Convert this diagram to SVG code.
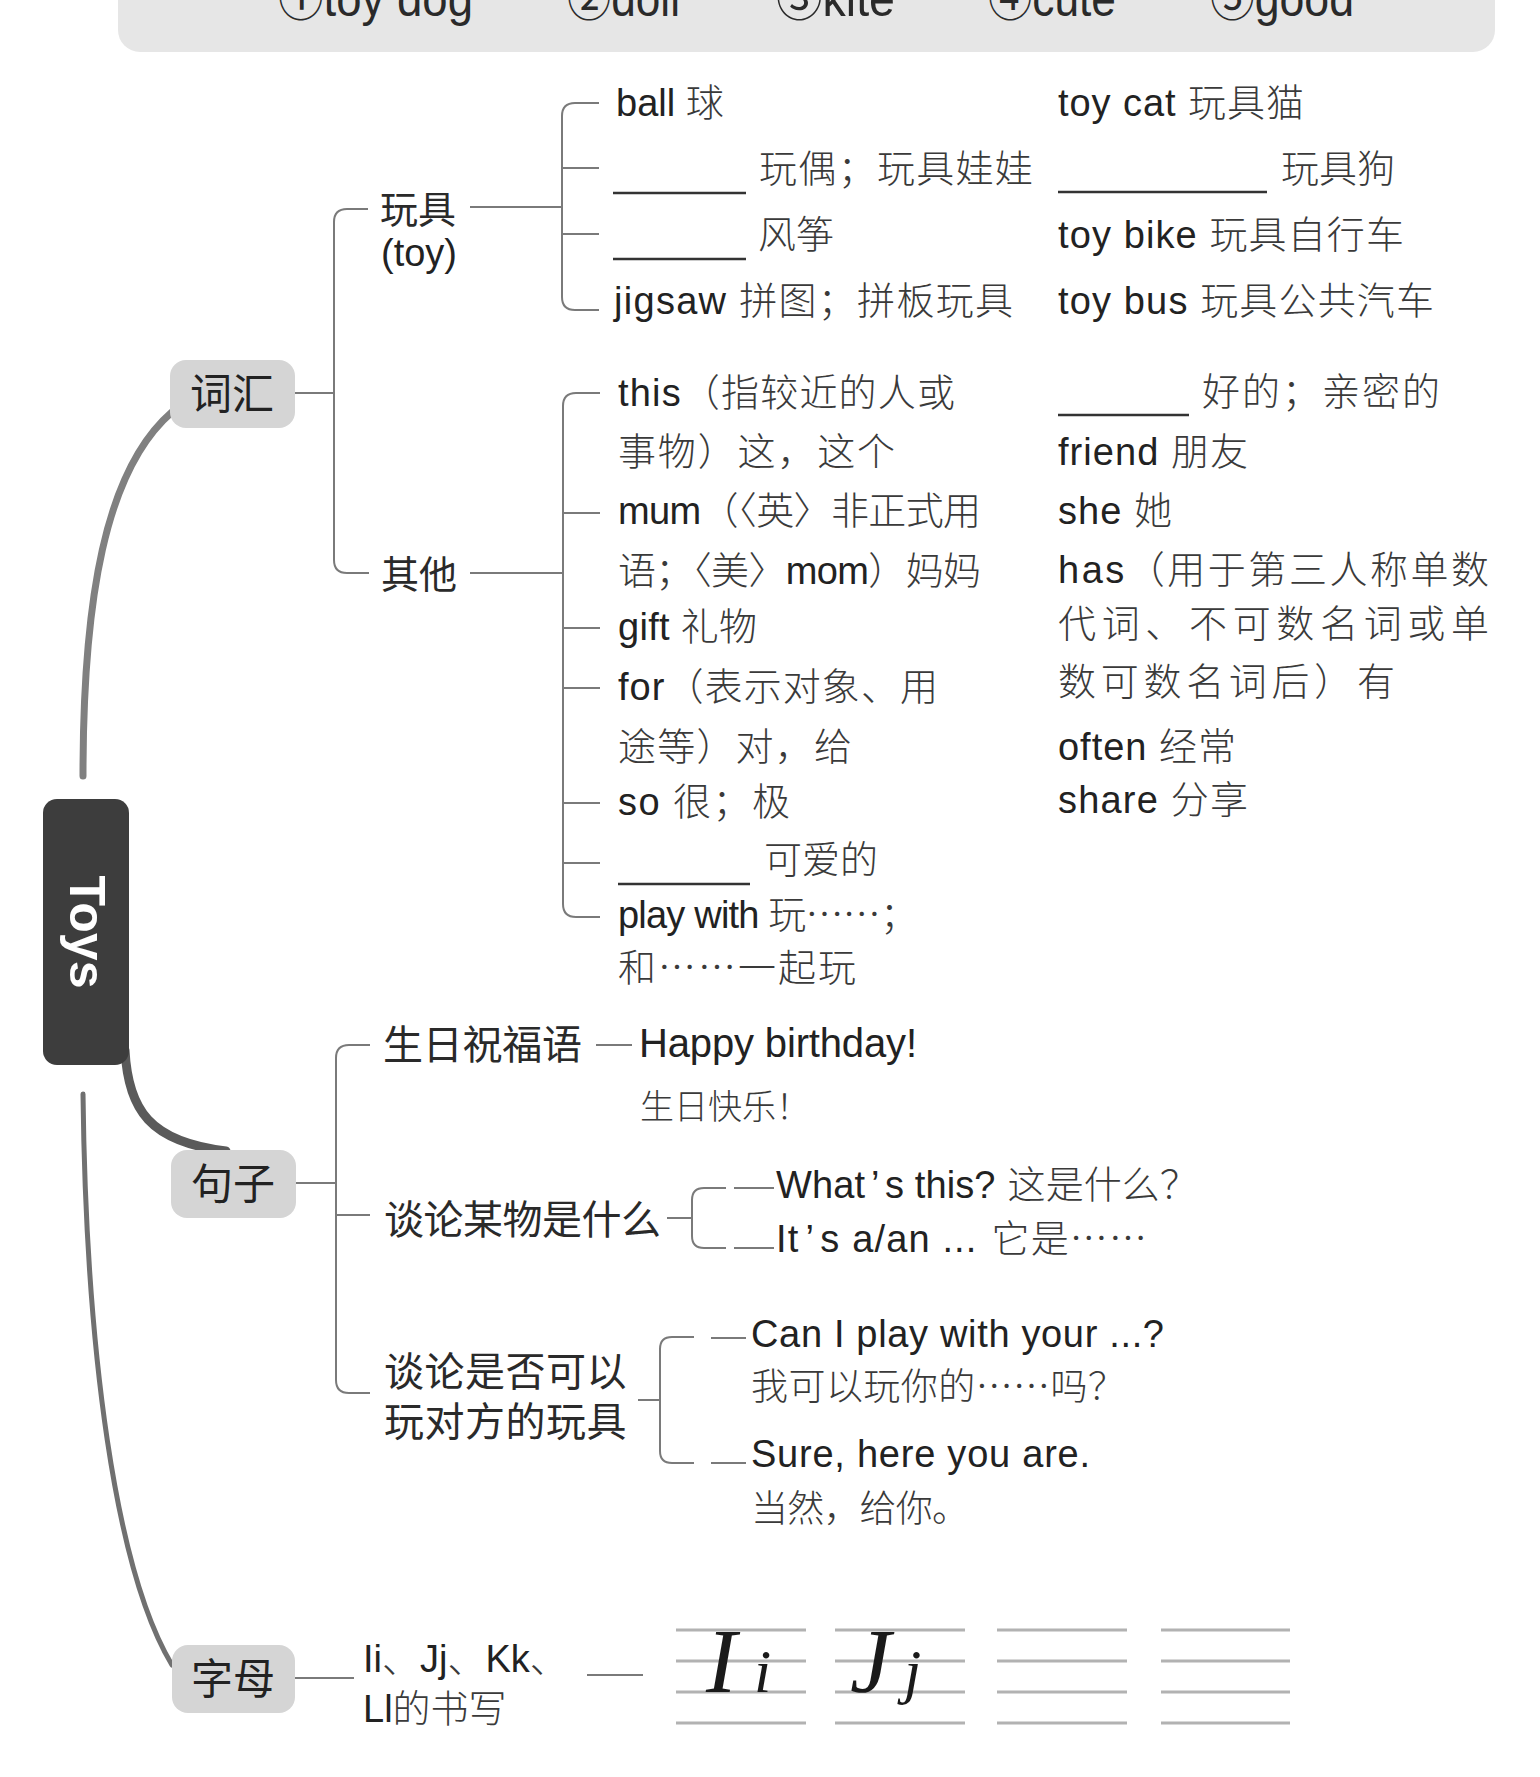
<svg xmlns="http://www.w3.org/2000/svg" width="1540" height="1777" viewBox="0 0 1540 1777">
<defs>
<style>
text{font-family:'Liberation Sans','Noto Sans CJK SC',sans-serif;fill:#222;font-size:38px}
.zh{font-family:'Noto Sans CJK SC',sans-serif;fill:#3a3a3a;font-weight:300}
.h{font-family:'Noto Sans CJK SC',sans-serif;font-size:40px;fill:#2a2a2a}
.lbl{font-family:'Noto Sans CJK SC',sans-serif;font-size:42px;fill:#222;text-anchor:middle}
.box{fill:#d5d5d5}
.ln{stroke:#7a7a7a;stroke-width:2;fill:none}
.ul{stroke:#333;stroke-width:2.5}
.grid{stroke:#b2b2b2;stroke-width:3}
.hw{font-family:'Liberation Serif',serif;font-style:italic;fill:#1a1a1a}
.top{font-size:50px;fill:#2a2a2a}
</style>
</defs>
<rect width="1540" height="1777" fill="#ffffff"/>

<g id="answer-bar">
<rect x="118" y="-40" width="1377" height="92" rx="22" fill="#e6e6e6"/>
<text class="top" x="278" y="16" textLength="195" lengthAdjust="spacingAndGlyphs">①toy dog</text>
<text class="top" x="567" y="16" textLength="113" lengthAdjust="spacingAndGlyphs">②doll</text>
<text class="top" x="776" y="16" textLength="119" lengthAdjust="spacingAndGlyphs">③kite</text>
<text class="top" x="988" y="16" textLength="128" lengthAdjust="spacingAndGlyphs">④cute</text>
<text class="top" x="1210" y="16" textLength="144" lengthAdjust="spacingAndGlyphs">⑤good</text>
</g>

<g id="connectors">
<path d="M83 776 C83 600 105 470 172 412" stroke="#808080" stroke-width="7" fill="none" stroke-linecap="round"/>
<path d="M125 1050 C128 1110 150 1142 226 1151" stroke="#5a5a5a" stroke-width="9" fill="none" stroke-linecap="round"/>
<path d="M83 1094 C86 1350 115 1570 172 1665" stroke="#707070" stroke-width="5" fill="none" stroke-linecap="round"/>
<path class="ln" d="M295 393 H334"/>
<path class="ln" d="M368 209 H347 Q334 209 334 222 V560 Q334 573 347 573 H369"/>
<path class="ln" d="M470 207 H562"/>
<path class="ln" d="M599 103 H575 Q562 103 562 116 V297 Q562 310 575 310 H599"/>
<path class="ln" d="M562 168 H599 M562 234 H599"/>
<path class="ln" d="M470 573 H563"/>
<path class="ln" d="M600 393 H576 Q563 393 563 406 V904 Q563 917 576 917 H600"/>
<path class="ln" d="M563 513 H600 M563 628 H600 M563 688 H600 M563 803 H600 M563 863 H600"/>
<path class="ln" d="M296 1183 H336"/>
<path class="ln" d="M370 1045 H349 Q336 1045 336 1058 V1380 Q336 1393 349 1393 H370"/>
<path class="ln" d="M336 1215 H370"/>
<path class="ln" d="M596 1045 H632"/>
<path class="ln" d="M667 1218 H692"/>
<path class="ln" d="M726 1188 H704 Q692 1188 692 1200 V1236 Q692 1248 704 1248 H726"/>
<path class="ln" d="M734 1188 H774 M734 1248 H774"/>
<path class="ln" d="M638 1400 H660"/>
<path class="ln" d="M694 1337 H672 Q660 1337 660 1349 V1451 Q660 1463 672 1463 H694"/>
<path class="ln" d="M711 1338 H746 M711 1463 H746"/>
<path class="ln" d="M295 1678 H354"/>
<path class="ln" d="M587 1675 H643"/>
</g>

<g id="node-toys">
<rect x="43" y="799" width="86" height="266" rx="14" fill="#3d3d3d"/>
<text transform="translate(87 932) rotate(90)" text-anchor="middle" dominant-baseline="central" font-weight="bold" style="fill:#ffffff;font-size:50px">Toys</text>
</g>

<g id="node-cihui">
<rect class="box" x="170" y="360" width="125" height="68" rx="16"/>
<text class="lbl" x="232" y="409">词汇</text>
</g>

<g id="node-wanju">
<text x="380" y="223" class="h" style="font-size:38px">玩具<tspan x="381" y="266" style="font-family:'Liberation Sans',sans-serif;fill:#222">(toy)</tspan></text>
</g>

<g id="items-wanju">
<text x="616" y="116">ball <tspan class="zh">球</tspan></text>
<line class="ul" x1="613" y1="193" x2="746" y2="193"/>
<text x="759" y="182" class="zh" textLength="274" lengthAdjust="spacing">玩偶；玩具娃娃</text>
<line class="ul" x1="613" y1="259" x2="746" y2="259"/>
<text x="758" y="248" class="zh">风筝</text>
<text x="614" y="314" textLength="399" lengthAdjust="spacing">jigsaw <tspan class="zh">拼图；拼板玩具</tspan></text>
<text x="1058" y="116" textLength="246" lengthAdjust="spacing">toy cat <tspan class="zh">玩具猫</tspan></text>
<line class="ul" x1="1058" y1="192" x2="1267" y2="192"/>
<text x="1281" y="182" class="zh">玩具狗</text>
<text x="1058" y="248" textLength="346" lengthAdjust="spacing">toy bike <tspan class="zh">玩具自行车</tspan></text>
<text x="1058" y="314" textLength="376" lengthAdjust="spacing">toy bus <tspan class="zh">玩具公共汽车</tspan></text>
</g>

<g id="node-qita">
<text x="381" y="588" class="h" style="font-size:38px">其他</text>
</g>

<g id="items-qita">
<text x="618" y="406" textLength="337" lengthAdjust="spacing">this<tspan class="zh">（指较近的人或</tspan></text>
<text x="618" y="465" class="zh" textLength="277" lengthAdjust="spacing">事物）这，这个</text>
<text x="618" y="524" textLength="363" lengthAdjust="spacing">mum<tspan class="zh">（〈英〉非正式用</tspan></text>
<text x="618" y="584" textLength="363" lengthAdjust="spacing"><tspan class="zh">语；〈美〉</tspan>mom<tspan class="zh">）妈妈</tspan></text>
<text x="618" y="640" textLength="139" lengthAdjust="spacing">gift <tspan class="zh">礼物</tspan></text>
<text x="618" y="700" textLength="320" lengthAdjust="spacing">for<tspan class="zh">（表示对象、用</tspan></text>
<text x="618" y="760" class="zh" textLength="234" lengthAdjust="spacing">途等）对，给</text>
<text x="618" y="815" textLength="172" lengthAdjust="spacing">so <tspan class="zh">很；极</tspan></text>
<line class="ul" x1="618" y1="884" x2="750" y2="884"/>
<text x="764" y="873" class="zh">可爱的</text>
<text x="618" y="928" textLength="300" lengthAdjust="spacing">play with <tspan class="zh">玩……；</tspan></text>
<text x="618" y="981" class="zh" textLength="238" lengthAdjust="spacing">和……一起玩</text>

<line class="ul" x1="1058" y1="415" x2="1189" y2="415"/>
<text x="1202" y="405" class="zh" textLength="238" lengthAdjust="spacing">好的；亲密的</text>
<text x="1058" y="465" textLength="190" lengthAdjust="spacing">friend <tspan class="zh">朋友</tspan></text>
<text x="1058" y="524" textLength="114" lengthAdjust="spacing">she <tspan class="zh">她</tspan></text>
<text x="1058" y="583" textLength="431" lengthAdjust="spacing">has<tspan class="zh">（用于第三人称单数</tspan></text>
<text x="1058" y="637" class="zh" textLength="431" lengthAdjust="spacing">代词、不可数名词或单</text>
<text x="1058" y="695" class="zh" textLength="337" lengthAdjust="spacing">数可数名词后）有</text>
<text x="1058" y="760" textLength="178" lengthAdjust="spacing">often <tspan class="zh">经常</tspan></text>
<text x="1058" y="813" textLength="190" lengthAdjust="spacing">share <tspan class="zh">分享</tspan></text>
</g>

<g id="node-juzi">
<rect class="box" x="171" y="1150" width="125" height="68" rx="16"/>
<text class="lbl" x="233" y="1199">句子</text>
</g>

<g id="items-juzi">
<text x="383" y="1059" class="h" textLength="199" lengthAdjust="spacing">生日祝福语</text>
<text x="639" y="1057" style="font-size:40px" textLength="278" lengthAdjust="spacing">Happy birthday!</text>
<text x="640" y="1119" class="zh" style="font-size:34px" textLength="170" lengthAdjust="spacing">生日快乐！</text>

<text x="384" y="1234" class="h" textLength="277" lengthAdjust="spacing">谈论某物是什么</text>
<text x="776" y="1198" textLength="422" lengthAdjust="spacing">What<tspan dx="6">’</tspan><tspan dx="6">s this?</tspan><tspan class="zh" dx="12">这是什么？</tspan></text>
<text x="776" y="1252" textLength="371" lengthAdjust="spacing">It<tspan dx="6">’</tspan><tspan dx="6">s a/an ...</tspan><tspan class="zh" dx="14">它是……</tspan></text>

<text x="384" y="1386" class="h" letter-spacing="0.5">谈论是否可以<tspan x="384" y="1436">玩对方的玩具</tspan></text>
<text x="751" y="1347" textLength="413" lengthAdjust="spacing">Can I play with your ...?</text>
<text x="751" y="1400" class="zh" style="font-size:37px" textLength="374" lengthAdjust="spacing">我可以玩你的……吗？</text>
<text x="751" y="1467" textLength="339" lengthAdjust="spacing">Sure, here you are.</text>
<text x="751" y="1522" class="zh" style="font-size:37px" textLength="218" lengthAdjust="spacing">当然，给你。</text>
</g>

<g id="node-zimu">
<rect class="box" x="172" y="1645" width="123" height="68" rx="16"/>
<text class="lbl" x="233" y="1694">字母</text>
</g>

<g id="items-zimu">
<text x="363" y="1672" style="font-size:38px">Ii<tspan class="zh">、</tspan>Jj<tspan class="zh">、</tspan>Kk<tspan class="zh">、</tspan><tspan x="363" y="1722">Ll</tspan><tspan class="zh">的书写</tspan></text>
</g>

<g id="writing-grids">
<path class="grid" d="M676 1630 H806 M676 1661 H806 M676 1692 H806 M676 1723 H806"/>
<path class="grid" d="M835 1630 H965 M835 1661 H965 M835 1692 H965 M835 1723 H965"/>
<path class="grid" d="M997 1630 H1127 M997 1661 H1127 M997 1692 H1127 M997 1723 H1127"/>
<path class="grid" d="M1161 1630 H1290 M1161 1661 H1290 M1161 1692 H1290 M1161 1723 H1290"/>
<text class="hw" x="706" y="1692" style="font-size:92px">I</text>
<text class="hw" x="754" y="1692" style="font-size:62px">i</text>
<text class="hw" x="850" y="1692" style="font-size:92px">J</text>
<text class="hw" x="904" y="1692" style="font-size:62px">j</text>
</g>
</svg>
